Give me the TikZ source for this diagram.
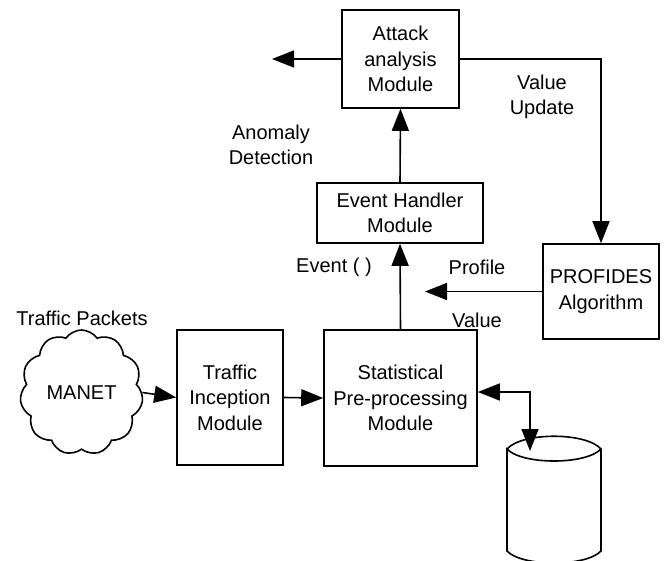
\documentclass[tikz,border=0pt]{standalone}
\usepackage{fontspec}
\setmainfont{Liberation Sans}
\usetikzlibrary{arrows.meta,shapes.symbols}
\begin{document}
\begin{tikzpicture}[x=1pt,y=-1pt,
  every node/.style={font=\fontsize{20}{25.5}\selectfont, align=center},
  modbox/.style={draw, line width=1.6pt, inner sep=0pt},
  conn/.style={line width=1.6pt, -{Triangle[length=22pt,width=17pt]}},
  dconn/.style={line width=1.6pt, {Triangle[length=22pt,width=17pt]}-{Triangle[length=22pt,width=17pt]}},
  lbl/.style={inner sep=0pt}]
\useasboundingbox (0,0) rectangle (666,560);
% modules
\node[modbox, minimum width=117pt, minimum height=98pt] (attack) at (400.5,59) {Attack\\analysis\\Module};
\node[modbox, minimum width=166pt, minimum height=60pt] (event) at (400,213) {Event Handler\\Module};
\node[modbox, minimum width=116pt, minimum height=95pt] (profides) at (601,291.5) {PROFIDES\\Algorithm};
\node[modbox, minimum width=106pt, minimum height=135pt] (traffic) at (230,397.5) {Traffic\\Inception\\Module};
\node[modbox, minimum width=153pt, minimum height=136pt] (stat) at (400.5,398) {Statistical\\Pre-processing\\Module};
\node[cloud, cloud puffs=11, cloud puff arc=110, cloud ignores aspect, draw, line width=1.6pt,
      minimum width=123pt, minimum height=125pt, inner sep=0pt] (manet) at (81.5,392.5) {MANET};
% labels
\node[lbl] (tp) at (82,318) {Traffic Packets};
\node[lbl] (anom) at (271,145) {Anomaly\\Detection};
\node[lbl] (vu) at (542,97) {Value\\Update};
\node[lbl] (ev) at (334,267) {Event ( )};
\node[lbl] (prof) at (477,267) {Profile};
\node[lbl] (val) at (477,320) {Value};
% free ends
\coordinate (anomend) at (272,59);
\coordinate (profend) at (425,291.5);
\coordinate (dbend) at (530,392);
\coordinate (cyltop) at (530,451);
% database cylinder
\draw[line width=1.6pt] (507,449) .. controls (522,432) and (586,432) .. (601,449)
  .. controls (586,465) and (522,465) .. (507,449) -- (507,551)
  .. controls (522,567) and (586,567) .. (601,551) -- (601,449);
% connectors
\draw[conn] (attack.west) -- (anomend);
\draw[conn] (attack.east) -| (profides.north);
\draw[conn] (profides.west) -- (profend);
\draw[conn] (event.north) -- (attack.south);
\draw[conn] (stat.north) -- (event.south);
\draw[conn] (manet.east) -- (traffic.west);
\draw[conn] (traffic.east) -- (stat.west);
\draw[dconn] (stat.east |- dbend) -- (dbend) -- (cyltop);
\end{tikzpicture}
\end{document}
